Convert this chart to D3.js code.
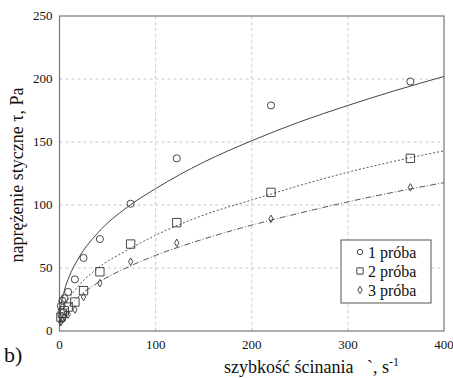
<!DOCTYPE html>
<html>
<head>
<meta charset="utf-8">
<script src="https://cdn.jsdelivr.net/npm/d3@7"></script>
<style>
  svg text { font-family: "Liberation Serif", "Times New Roman", serif; }
</style>
</head>
<body style="margin:0;background:#fff">
<svg id="chart" width="453" height="378"></svg>
<script>
// measured points (shear rate, stress)
var rate = [1.5, 3, 5, 9, 16, 25, 42, 74, 122, 220, 365];
var proba1 = [20, 24, 26, 31, 41, 58, 73, 101, 137, 179, 198];
var proba2 = [11, 14, 16, 19, 23, 32, 47, 69, 86, 110, 137];
var proba3 = [7, 9, 11, 13, 17, 27, 38, 55, 70, 89, 114];

// fitted curves
var fitX = [0, 1, 2, 5, 10, 20, 40, 70, 100, 150, 200, 250, 300, 350, 400];
var fit1 = [4, 17, 22, 32, 43, 58, 78, 98, 113, 134, 151, 166, 179, 191, 202];
var fit2 = [4, 9, 12.5, 19, 26, 36, 50, 64, 76, 92, 104, 115.5, 126, 135, 143];
var fit3 = [4, 6.4, 9, 14, 19.6, 27.4, 38.3, 50.3, 60, 73, 84, 93.6, 102.5, 110.5, 117.7];

var xTicks = [0, 100, 200, 300, 400];
var yTicks = [0, 50, 100, 150, 200, 250];
var legendLabels = ["1 próba", "2 próba", "3 próba"];

var svg = d3.select("svg"),
    margin = {top: 16, right: 9, bottom: 47, left: 59.5},
    width = +svg.attr("width") - margin.left - margin.right,
    height = +svg.attr("height") - margin.top - margin.bottom;

var x = d3.scaleLinear().domain([0, 400]).range([0, width]),
    y = d3.scaleLinear().domain([0, 250]).range([height, 0]);

var g = svg.append("g").attr("transform", "translate(" + margin.left + "," + margin.top + ")");

// grid
g.selectAll(".gx").data(xTicks.slice(1, -1)).enter().append("line")
    .attr("x1", function(d) { return x(d); }).attr("x2", function(d) { return x(d); })
    .attr("y1", 0).attr("y2", height)
    .attr("stroke", "#c8c8c8").attr("stroke-dasharray", "3,3");
g.selectAll(".gy").data(yTicks.slice(1, -1)).enter().append("line")
    .attr("y1", function(d) { return y(d); }).attr("y2", function(d) { return y(d); })
    .attr("x1", 0).attr("x2", width)
    .attr("stroke", "#c8c8c8").attr("stroke-dasharray", "3,3");

// axes (plain text ticks so the serif font is not overridden)
g.selectAll(".xt").data(xTicks).enter().append("text")
    .attr("x", function(d) { return x(d); }).attr("y", height + 18)
    .attr("text-anchor", "middle").attr("font-size", 13).attr("fill", "#111")
    .text(function(d) { return d; });
g.selectAll(".yt").data(yTicks).enter().append("text")
    .attr("x", -7).attr("y", function(d) { return y(d); }).attr("dy", "0.32em")
    .attr("text-anchor", "end").attr("font-size", 13).attr("fill", "#111")
    .text(function(d) { return d; });

g.append("rect")
    .attr("width", width).attr("height", height)
    .attr("fill", "none").attr("stroke", "#777").attr("stroke-width", 1.2);

// fit lines
var line = function(ys) {
  return d3.line().x(function(d, i) { return x(fitX[i]); }).y(function(d) { return y(d); })
    .curve(d3.curveMonotoneX)(ys);
};
g.append("path").attr("d", line(fit1)).attr("fill", "none").attr("stroke", "#444").attr("stroke-width", 1);
g.append("path").attr("d", line(fit2)).attr("fill", "none").attr("stroke", "#555").attr("stroke-width", 1)
    .attr("stroke-dasharray", "2,2");
g.append("path").attr("d", line(fit3)).attr("fill", "none").attr("stroke", "#555").attr("stroke-width", 1)
    .attr("stroke-dasharray", "6,2,1,2");

// markers
var circleSym = d3.symbol().type(d3.symbolCircle).size(40),
    squareSym = d3.symbol().type(d3.symbolSquare).size(70),
    diamondSym = d3.symbol().type(d3.symbolDiamond).size(16);

function marks(vals, sym) {
  g.append("g").selectAll("path").data(vals).enter().append("path")
      .attr("d", sym)
      .attr("transform", function(d, i) { return "translate(" + x(rate[i]) + "," + y(d) + ")"; })
      .attr("fill", "none").attr("stroke", "#333").attr("stroke-width", 0.9);
}
marks(proba1, circleSym);
marks(proba2, squareSym);
marks(proba3, diamondSym);

// legend
var lg = svg.append("g").attr("transform", "translate(341,240)");
lg.append("rect").attr("width", 90).attr("height", 63)
    .attr("fill", "#fff").attr("stroke", "#555");
var syms = [d3.symbol().type(d3.symbolCircle).size(22), d3.symbol().type(d3.symbolSquare).size(40), diamondSym];
legendLabels.forEach(function(t, i) {
  lg.append("path").attr("d", syms[i]).attr("transform", "translate(19," + (12 + i * 19) + ")")
      .attr("fill", "none").attr("stroke", "#333").attr("stroke-width", 0.9);
  lg.append("text").attr("x", 27).attr("y", 12 + i * 19).attr("dy", "0.35em")
      .attr("font-size", 16).attr("fill", "#111").text(t);
});

// axis titles
var xt = svg.append("text").attr("x", 224).attr("y", 373)
    .attr("font-size", 18).attr("fill", "#111");
xt.append("tspan").text("szybkość ścinania \u00a0\u00a0`, s");
xt.append("tspan").attr("dy", -7).attr("font-size", 12).text("-1");
svg.append("text").attr("transform", "translate(23,175) rotate(-90)")
    .attr("text-anchor", "middle").attr("font-size", 18).attr("fill", "#111")
    .text("naprężenie styczne   τ, Pa");
svg.append("text").attr("x", 4).attr("y", 362)
    .attr("font-size", 22).attr("fill", "#111").text("b)");
</script>
</body>
</html>
